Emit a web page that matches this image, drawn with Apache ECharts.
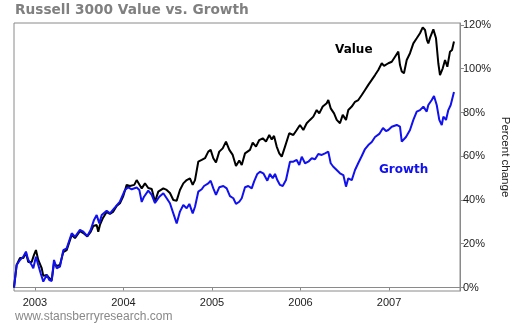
<!DOCTYPE html>
<html><head><meta charset="utf-8">
<script src="https://cdn.jsdelivr.net/npm/echarts@6/dist/echarts.min.js"></script>
<style>html,body{margin:0;padding:0;background:#fff}#c{width:510px;height:325px}</style>
</head><body><div id="c"></div>
<script>
const yearTicks = [2003, 2004, 2005, 2006, 2007];
const pctTicks = [0, 20, 40, 60, 80, 100, 120];

const valueYears = [2002.763,2002.793,2002.831,2002.868,2002.898,2002.924,2002.963,2002.989,2003.011,2003.037,
2003.076,2003.094,2003.132,2003.162,2003.189,2003.215,2003.245,2003.282,2003.320,2003.358,
2003.376,2003.415,2003.452,2003.508,2003.546,2003.591,2003.629,2003.659,2003.697,2003.715,
2003.734,2003.768,2003.810,2003.847,2003.885,2003.923,2003.960,2003.998,2004.036,2004.073,
2004.122,2004.149,2004.167,2004.206,2004.243,2004.280,2004.319,2004.356,2004.393,2004.450,
2004.488,2004.525,2004.563,2004.601,2004.638,2004.676,2004.714,2004.751,2004.782,2004.808,
2004.845,2004.884,2004.921,2004.958,2004.985,2005.015,2005.045,2005.082,2005.121,2005.158,
2005.196,2005.234,2005.271,2005.308,2005.336,2005.373,2005.429,2005.460,2005.497,2005.534,
2005.573,2005.610,2005.647,2005.675,2005.701,2005.731,2005.760,2005.788,2005.825,2005.873,
2005.919,2005.957,2005.994,2006.032,2006.070,2006.107,2006.145,2006.183,2006.212,2006.251,
2006.296,2006.314,2006.341,2006.379,2006.409,2006.446,2006.477,2006.514,2006.540,2006.579,
2006.616,2006.653,2006.692,2006.729,2006.766,2006.805,2006.842,2006.879,2006.918,2006.944,
2006.966,2006.992,2007.031,2007.068,2007.105,2007.124,2007.144,2007.169,2007.200,2007.237,
2007.275,2007.313,2007.350,2007.381,2007.407,2007.429,2007.444,2007.463,2007.501,2007.531,
2007.557,2007.576,2007.607,2007.633,2007.659,2007.689,2007.712,2007.734];

const valuePct = [0,10.3,13.5,13.5,15.8,11.7,11.7,14.9,17.1,12.6,
8.8,5.3,5.7,4.3,3.4,11.2,9.8,10.3,16.2,17.1,
16.7,24.0,22.6,25.8,24.9,23.3,25.4,28.1,28.6,25.5,
28.6,31.8,34.5,33.6,34.7,37.3,38.5,41.8,46.9,46.4,
46.9,49.1,49.9,45.3,47.6,45.5,45.0,39.2,43.8,45.3,
44.6,43.2,40.0,39.7,44.6,47.6,49.1,49.9,46.9,49.1,
57.5,58.3,59.1,62.1,62.9,59.1,57.1,62.1,63.6,66.7,
62.9,60.6,55.5,58.0,56.0,61.3,62.9,66.2,64.4,67.4,
68.2,66.7,69.7,67.7,69.3,64.4,61.3,59.8,64.4,70.5,
69.7,72.0,74.3,72.0,75.1,76.6,78.1,81.1,79.6,82.7,
84.2,85.7,81.9,79.6,76.6,75.1,78.9,76.6,81.1,82.7,
84.9,85.7,88.0,90.3,92.6,94.9,97.1,99.4,102.5,101.3,
100.9,102.5,103.2,105.5,107.8,101.7,98.7,97.9,104.0,107.1,
111.6,113.9,116.2,118.9,117.7,113.1,111.6,114.1,118.0,113.9,
102.5,97.1,100.2,104.0,100.9,107.8,108.6,112.4];

const growthYears = [2002.763,2002.793,2002.831,2002.868,2002.898,2002.924,2002.963,2002.981,2003.011,2003.037,
2003.064,2003.094,2003.132,2003.162,2003.189,2003.215,2003.245,2003.282,2003.320,2003.358,
2003.376,2003.415,2003.452,2003.508,2003.546,2003.591,2003.629,2003.667,2003.697,2003.727,
2003.754,2003.810,2003.847,2003.904,2003.960,2004.017,2004.054,2004.093,2004.149,2004.179,
2004.206,2004.232,2004.280,2004.319,2004.356,2004.405,2004.450,2004.488,2004.525,2004.563,
2004.601,2004.638,2004.676,2004.714,2004.744,2004.782,2004.808,2004.845,2004.884,2004.910,
2004.958,2004.985,2005.015,2005.045,2005.082,2005.128,2005.166,2005.203,2005.241,2005.271,
2005.308,2005.336,2005.373,2005.410,2005.449,2005.475,2005.512,2005.542,2005.580,2005.625,
2005.655,2005.686,2005.712,2005.738,2005.768,2005.799,2005.836,2005.881,2005.919,2005.957,
2005.986,2006.014,2006.051,2006.088,2006.127,2006.164,2006.201,2006.240,2006.277,2006.314,
2006.341,2006.371,2006.409,2006.446,2006.484,2006.514,2006.540,2006.579,2006.616,2006.653,
2006.692,2006.729,2006.766,2006.805,2006.842,2006.890,2006.932,2006.966,2006.992,2007.031,
2007.087,2007.124,2007.144,2007.162,2007.192,2007.237,2007.275,2007.313,2007.350,2007.388,
2007.426,2007.444,2007.483,2007.508,2007.539,2007.568,2007.596,2007.614,2007.644,2007.670,
2007.697,2007.734];

const growthPct = [0,10.3,12.6,14.1,16.4,12.6,10.3,8.8,14.1,10.3,
6.5,2.7,5.7,3.4,3.0,12.6,8.8,9.5,17.1,17.9,
17.1,24.8,23.2,26.3,25.5,23.5,26.3,30.9,33.1,29.3,
33.1,35.1,33.9,36.6,39.3,44.6,45.8,44.9,45.7,44.6,
39.1,41.5,44.3,42.3,38.6,41.5,43.1,40.8,38.5,33.9,
29.3,34.7,37.7,36.2,38.2,33.9,36.9,43.8,44.9,46.4,
47.6,48.8,45.3,42.3,45.8,46.4,45.3,41.8,40.8,38.2,
39.2,40.8,45.8,46.4,45.3,48.4,51.9,52.9,52.2,48.8,
51.9,49.9,51.9,49.1,46.9,46.4,49.1,57.5,57.5,58.3,
56.0,59.8,56.8,57.5,59.1,58.6,61.0,60.6,61.3,62.1,
56.8,55.2,53.7,52.2,51.4,46.1,49.9,49.1,53.7,56.9,
60.1,63.3,65.1,66.5,68.8,70.2,72.9,71.5,72.0,73.5,
74.3,73.5,66.7,65.9,68.8,72.0,76.6,80.4,81.1,82.7,
80.4,83.4,85.7,87.5,83.4,76.6,74.3,78.1,76.6,81.1,
83.4,89.4];

const chart = echarts.init(document.getElementById('c'), null, {renderer: 'canvas'});
const axisGray = '#8a8a8a';
const labelFont = 'Liberation Sans, Arial, sans-serif';
chart.setOption({
  animation: false,
  backgroundColor: '#fff',
  title: {
    text: 'Russell 3000 Value vs. Growth',
    left: 15, top: 3, padding: 0,
    textStyle: {fontFamily: 'DejaVu Sans, Verdana, sans-serif', fontWeight: 'bold', fontSize: 13.7, color: '#808080'}
  },
  grid: {left: 14, right: 50, top: 23, bottom: 34, show: true, borderColor: axisGray, borderWidth: 1,
    containLabel: false, outerBoundsMode: 'none'},
  xAxis: {
    type: 'value', min: 2002.763, max: 2007.802,
    axisLine: {show: true, lineStyle: {color: axisGray, width: 1}},
    axisTick: {show: true, length: 3, customValues: yearTicks, lineStyle: {color: axisGray}},
    axisLabel: {customValues: yearTicks, formatter: v => String(Math.round(v)), margin: 6,
      fontFamily: labelFont, fontSize: 11, color: '#222'},
    splitLine: {show: false}
  },
  yAxis: {
    type: 'value', position: 'right', min: -1.6, max: 120.9,
    name: 'Percent change', nameLocation: 'middle', nameRotate: -90, nameGap: 39,
    nameMoveOverlap: false,
    nameTextStyle: {fontFamily: labelFont, fontSize: 11.5, color: '#222'},
    axisLine: {show: true, lineStyle: {color: axisGray, width: 1}},
    axisTick: {show: true, length: 4, customValues: pctTicks, lineStyle: {color: axisGray}},
    axisLabel: {customValues: pctTicks, formatter: '{value}%', margin: 3,
      fontFamily: labelFont, fontSize: 11, color: '#222'},
    splitLine: {show: false}
  },
  graphic: [
    {type: 'text', left: 335, top: 44, style: {text: 'Value', fontFamily: 'DejaVu Sans, Verdana, sans-serif', fontWeight: 'bold', fontSize: 12, fill: '#000'}},
    {type: 'text', left: 379, top: 164, style: {text: 'Growth', fontFamily: 'DejaVu Sans, Verdana, sans-serif', fontWeight: 'bold', fontSize: 12, fill: '#1010f0'}},
    {type: 'text', left: 15, top: 311, style: {text: 'www.stansberryresearch.com', fontFamily: labelFont, fontSize: 12, fill: '#888'}}
  ],
  series: [
    {name: 'Value', type: 'line', showSymbol: false, symbol: 'none',
     data: valueYears.map((x, i) => [x, valuePct[i]]),
     lineStyle: {color: '#000', width: 2}, z: 2},
    {name: 'Growth', type: 'line', showSymbol: false, symbol: 'none',
     data: growthYears.map((x, i) => [x, growthPct[i]]),
     lineStyle: {color: '#1010f0', width: 2}, z: 3}
  ]
});
</script></body></html>
